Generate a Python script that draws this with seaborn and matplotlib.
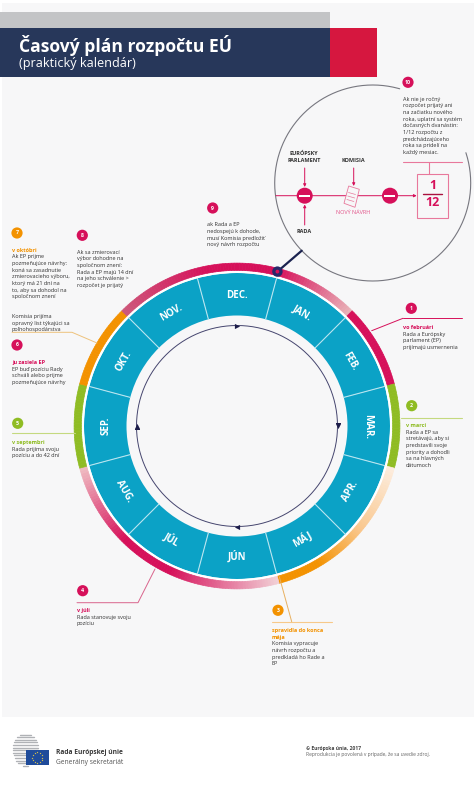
import numpy as np
import pandas as pd
import matplotlib
matplotlib.use('Agg')
import matplotlib.pyplot as plt
from matplotlib.colors import LinearSegmentedColormap
from matplotlib.patches import Circle, Polygon, Rectangle
import seaborn as sns

# Chart content
months = ['JAN.', 'FEB.', 'MAR.', 'APR.', 'MÁJ', 'JÚN', 'JÚL', 'AUG.', 'SEP.', 'OKT.', 'NOV.', 'DEC.']
month_share = [1, 1, 1, 1, 1, 1, 1, 1, 1, 1, 1, 1]

title = 'Časový plán rozpočtu EÚ'
subtitle = '(praktický kalendár)'

step_numbers = ['1', '2', '3', '4', '5', '6', '7', '8', '9', '10']
step_heads = [
    ['vo februári'], ['v marci'], ['spravidla do konca', 'mája'], ['v júli'], ['v septembri'],
    ['ju zasiela EP'], ['v októbri'], [], [], [],
]
step_texts = [
    ['Rada a Európsky', 'parlament (EP)', 'prijímajú usmernenia'],
    ['Rada a EP sa', 'stretávajú, aby si', 'predstavili svoje', 'priority a dohodli', 'sa na hlavných', 'dátumoch'],
    ['Komisia vypracuje', 'návrh rozpočtu a', 'predkladá ho Rade a', 'EP'],
    ['Rada stanovuje svoju', 'pozíciu'],
    ['Rada prijíma svoju', 'pozíciu a do 42 dní'],
    ['EP buď pozíciu Rady', 'schváli alebo prijme', 'pozmeňujúce návrhy'],
    ['Ak EP prijme', 'pozmeňujúce návrhy:', 'koná sa zasadnutie', 'zmierovacieho výboru,', 'ktorý má 21 dní na',
     'to, aby sa dohodol na', 'spoločnom znení', '', '', 'Komisia prijíma', 'opravný list týkajúci sa',
     'poľnohospodárstva'],
    ['Ak sa zmierovací', 'výbor dohodne na', 'spoločnom znení:', 'Rada a EP majú 14 dní', 'na jeho schválenie >',
     'rozpočet je prijatý'],
    ['ak Rada a EP', 'nedospejú k dohode,', 'musí Komisia predložiť', 'nový návrh rozpočtu'],
    ['Ak nie je ročný', 'rozpočet prijatý ani', 'na začiatku nového', 'roka, uplatní sa systém', 'dočasných dvanástin:',
     '1/12 rozpočtu z', 'predchádzajúceho', 'roka sa pridelí na', 'každý mesiac.'],
]

# Colours
BG = '#f7f7f8'
NAVY = '#27375a'
CRIMSON = '#d6105a'
RED = '#d6173f'
GREEN = '#8fbc23'
ORANGE = '#f39200'
BLUE = '#0ba2c6'
DARK = '#333333'

# Outer ring colour stops: clockwise degrees from the top, colour
ring_deg = [0, 15, 45, 45, 75, 75, 105, 105, 130, 150, 165, 165, 205, 225, 255, 255, 285, 285, 315, 315, 350, 360]
ring_col = [CRIMSON, CRIMSON, '#e9b4b9', CRIMSON, CRIMSON, GREEN, GREEN, '#fdeee0', '#fac88f', ORANGE, ORANGE,
            '#f2d3d8', CRIMSON, CRIMSON, '#efbcc2', GREEN, GREEN, ORANGE, ORANGE, '#cd5a7c', CRIMSON, CRIMSON]

# Step layout in image pixels: badge centre, text x, first line y
step_badge = [(411.3, 308.3), (411.7, 405.7), (278, 610.3), (82.7, 590.7), (17.7, 423.3),
              (17, 345), (17, 233), (82.3, 235.3), (212.7, 208), (408, 82.3)]
step_text_x = [403, 406, 272, 77, 12, 12, 12, 77, 207, 402.7]
step_text_y = [327.7, 425.7, 630.7, 610.7, 442.7, 362.7, 250.3, 252.3, 225, 99.3]
step_color = [CRIMSON, GREEN, ORANGE, CRIMSON, GREEN, CRIMSON, ORANGE, CRIMSON, CRIMSON, CRIMSON]

WIDTH, HEIGHT = 474, 786
CX, CY, RMAX = 237, 426, 170
LINE = 6.62
FONT = 3.98

sns.set_theme(style='white')
plt.rcParams['font.family'] = ['Open Sans', 'DejaVu Sans']

fig = plt.figure(figsize=(WIDTH / 100, HEIGHT / 100), dpi=100, facecolor='white')

# Grey page behind everything, the footer stays white
fig.add_artist(Rectangle((2 / WIDTH, 1 - 717 / HEIGHT), 1, 714 / HEIGHT, transform=fig.transFigure,
                         color=BG, lw=0, zorder=-1))

# The wheel lives on a polar axes whose radial unit is one image pixel
wheel = fig.add_axes([(CX - RMAX) / WIDTH, (HEIGHT - CY - RMAX) / HEIGHT, 2 * RMAX / WIDTH, 2 * RMAX / HEIGHT],
                     projection='polar', zorder=1)
wheel.set_theta_zero_location('N')
wheel.set_theta_direction(-1)

# One bar per month, JAN. sits 30 degrees past the top
month_width = 2 * np.pi * np.array(month_share) / sum(month_share)
month_theta = np.cumsum(month_width)
month_df = pd.DataFrame({'theta': month_theta, 'height': 153 - 110.5, 'month': months})
sns.barplot(data=month_df, x='theta', y='height', native_scale=True, width=1, bottom=110.5, color=BLUE,
            saturation=1, errorbar=None, linewidth=0, ax=wheel)

# White gap and coloured gradient ring, small bars so the edge stays smooth
wheel.bar(0, 2.5, width=2 * np.pi, bottom=153, color='white', linewidth=0)
ring_cmap = LinearSegmentedColormap.from_list('ring', [(d / 360, c) for d, c in zip(ring_deg, ring_col)], N=720)
ring_steps = np.arange(0.5, 360, 1.0)
ring_colors = ring_cmap(ring_steps / 360)
wheel.bar(np.deg2rad(ring_steps), 7.3, width=np.deg2rad(1.0), bottom=155.6, color=ring_colors,
          edgecolor=ring_colors, linewidth=0.5)

# Month dividers and labels
for theta, label in zip(month_theta, months):
    edge = theta + month_width[0] / 2
    wheel.plot([edge, edge], [110.5, 153], color='#b8e5f0', lw=0.8)
    deg = np.rad2deg(theta)
    if deg <= 90:
        rot = -deg
    elif deg < 270:
        rot = 180 - deg
    else:
        rot = 360 - deg
    wheel.text(theta, 130.5, label, color='white', fontsize=7.0, fontweight='bold', rotation=rot,
               rotation_mode='anchor', ha='center', va='center')

# Thin inner cycle with its arrowheads
circle_theta = np.linspace(0, 2 * np.pi, 361)
wheel.plot(circle_theta, np.full(361, 100.5), color='#45456e', lw=0.7)
for deg, mark in zip([0, 90, 180, 270], ['>', 'v', '<', '^']):
    wheel.scatter(np.deg2rad(deg), 100.5, marker=mark, s=14, color='#1d1d4a', linewidth=0, zorder=4)

wheel.set_rlim(0, RMAX)
wheel.set_theta_offset(np.pi / 2)
wheel.set_xlabel('')
wheel.set_ylabel('')
wheel.grid(False)
wheel.axis('off')

# Everything else goes on a transparent axes in image pixels
ax = fig.add_axes([0, 0, 1, 1], zorder=2)
ax.set_xlim(0, WIDTH)
ax.set_ylim(HEIGHT, 0)
ax.axis('off')

# Header
ax.add_patch(Rectangle((0, 12), 330, 16, color='#c3c4c6', lw=0))
ax.add_patch(Rectangle((0, 28), 330, 48.5, color=NAVY, lw=0))
ax.add_patch(Rectangle((330, 28), 47, 48.5, color=RED, lw=0))
ax.text(19, 45.7, title, color='white', fontsize=12.6, fontweight='bold', va='center')
ax.text(19, 64, subtitle, color='white', fontsize=9.1, va='center')

# Steps
for i, num in enumerate(step_numbers):
    bx, by = step_badge[i]
    ax.add_patch(Circle((bx, by), 5.6, color=step_color[i], lw=0))
    ax.text(bx, by, num, color='white', fontsize=3.8, fontweight='bold', ha='center', va='center')
    y = step_text_y[i]
    for line in step_heads[i]:
        ax.text(step_text_x[i], y, line, color=step_color[i], fontsize=FONT, fontweight='bold', va='center')
        y += LINE
    for line in step_texts[i]:
        ax.text(step_text_x[i], y, line, color=DARK, fontsize=FONT, va='center')
        y += LINE

# Leader lines
ax.plot([403, 462], [318.3, 318.3], color=CRIMSON, lw=0.7)
ax.plot([403, 371.7], [318.3, 330.7], color=CRIMSON, lw=0.7)
ax.plot([400.7, 462], [418, 418], color='#c4d97f', lw=0.8)
ax.plot([272, 332], [621.7, 621.7], color='#f7c98a', lw=0.8)
ax.plot([279.3, 291.7], [576.7, 621.7], color='#e8b060', lw=0.7)
ax.plot([77, 138, 155], [602.7, 602.7, 569], color='#d9648c', lw=0.7)
ax.plot([12, 75], [432.7, 432.7], color='#c4d97f', lw=0.8)
ax.plot([12, 72, 97], [332.3, 332.3, 343], color='#eec27c', lw=0.7)

# Big "no budget" circle with the gap behind step 10
big_deg = np.deg2rad(np.arange(72, 377, 1))
ax.plot(372.7 + 98 * np.sin(big_deg), 183 - 98 * np.cos(big_deg), color='#77777f', lw=0.8)
ax.plot([301.7, 277.4], [250.7, 271.6], color='#1b2350', lw=1.6)
ax.add_patch(Circle((277.4, 271.6), 5.2, color='#27286a', lw=0, zorder=5))
ax.add_patch(Circle((277.4, 271.6), 1.9, color=CRIMSON, lw=0, zorder=6))

# Procedure diagram inside the circle
arrow = dict(arrowstyle='-|>', color=CRIMSON, lw=0.7, mutation_scale=4, shrinkA=0, shrinkB=0)
ax.annotate('', xy=(416.7, 195.7), xytext=(276, 195.7), arrowprops=arrow)
ax.annotate('', xy=(304.7, 187), xytext=(304.7, 168), arrowprops=arrow)
ax.annotate('', xy=(304.7, 204.5), xytext=(304.7, 225), arrowprops=arrow)
ax.annotate('', xy=(353.7, 186), xytext=(353.7, 168), arrowprops=arrow)
for mx in [304.7, 390]:
    ax.add_patch(Circle((mx, 195.7), 8, color=CRIMSON, lw=0, zorder=3))
    ax.add_patch(Rectangle((mx - 5.5, 195), 11, 1.5, color='white', lw=0, zorder=4))
ax.add_patch(Polygon([(348.7, 186), (359.3, 189.3), (355, 207.3), (344, 203.3)], closed=True,
                     facecolor=BG, edgecolor='#e8789c', lw=0.6, zorder=3))
for k in range(3):
    ax.plot([348.5 - k * 0.8, 355.5 - k * 0.8], [192.5 + k * 3.5, 194.5 + k * 3.5], color='#e8789c', lw=0.5, zorder=4)
ax.text(303.7, 153.7, 'EURÓPSKY', color=DARK, fontsize=FONT, fontweight='bold', ha='center', va='center')
ax.text(303.7, 160.3, 'PARLAMENT', color=DARK, fontsize=FONT, fontweight='bold', ha='center', va='center')
ax.text(353.7, 160.3, 'KOMISIA', color=DARK, fontsize=FONT, fontweight='bold', ha='center', va='center')
ax.text(303.7, 231.3, 'RADA', color=DARK, fontsize=FONT, fontweight='bold', ha='center', va='center')
ax.text(353.3, 212.7, 'NOVÝ NÁVRH', color='#e2558a', fontsize=FONT, ha='center', va='center')

# 1/12 box
ax.add_patch(Rectangle((417.3, 174.3), 30.4, 43.4, facecolor='none', edgecolor='#e8789c', lw=0.8))
ax.plot([402.7, 462.3], [162.3, 162.3], color='#e8789c', lw=0.8)
ax.plot([429.3, 429.3], [162.3, 174.3], color='#e8789c', lw=0.8)
ax.plot([422.7, 442.3], [194, 194], color='#a9123f', lw=1)
ax.text(432.5, 185.7, '1', color=CRIMSON, fontsize=9, fontweight='bold', ha='center', va='center')
ax.text(432.5, 202.3, '12', color=CRIMSON, fontsize=9, fontweight='bold', ha='center', va='center')

# Footer logo: stripes behind the flag
for sy in np.arange(734.5, 766, 2.6):
    half = 12.5 * np.sqrt(max(1 - ((sy - 749.5) / 16.5) ** 2, 0.05))
    ax.plot([25.5 - half, 25.5 + half], [sy, sy], color='#b0b2b6', lw=1.0)
ax.add_patch(Rectangle((26, 749.7), 22.7, 15.6, color='#1f4b9a', lw=0, zorder=3))
star_deg = np.deg2rad(np.arange(0, 360, 30))
ax.scatter(37.3 + 5.2 * np.sin(star_deg), 757.5 + 5.2 * np.cos(star_deg), marker='*', s=2.2, color='#f4d33f',
           linewidth=0, zorder=4)
ax.text(56, 752.7, 'Rada Európskej únie', color='#3a3a3a', fontsize=4.8, fontweight='bold', va='center')
ax.text(56, 762.3, 'Generálny sekretariát', color='#555555', fontsize=4.8, va='center')
ax.text(306, 748.7, '© Európska únia, 2017', color='#444444', fontsize=3.63, fontweight='bold', va='center')
ax.text(306, 754.7, 'Reprodukcia je povolená v prípade, že sa uvedie zdroj.', color='#666666', fontsize=3.63, va='center')

fig.savefig('out.png', dpi=100)
